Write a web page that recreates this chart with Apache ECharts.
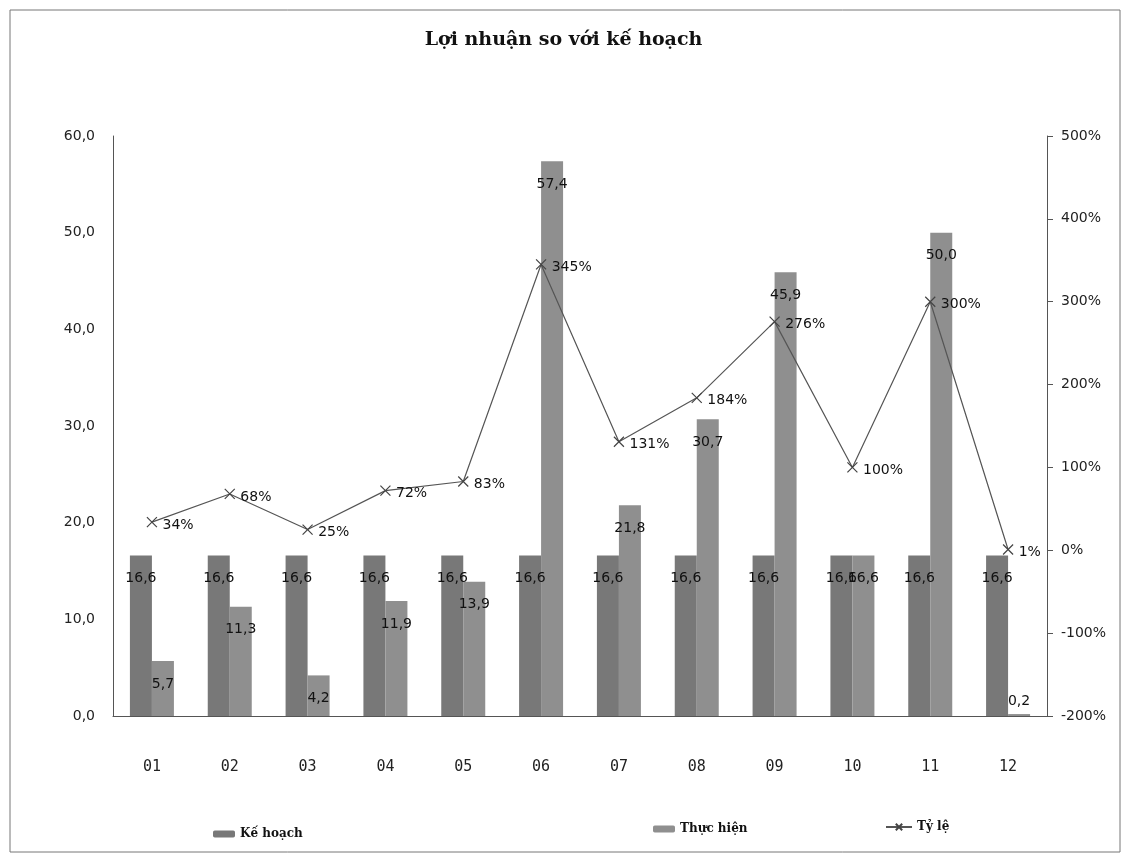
<!DOCTYPE html>
<html><head><meta charset="utf-8">
<script src="https://cdn.jsdelivr.net/npm/echarts@6/dist/echarts.min.js"></script>
<style>html,body{margin:0;padding:0;background:#fff}#c{width:1127px;height:856px}</style>
</head><body><div id="c"></div>
<script>
const months = ['01','02','03','04','05','06','07','08','09','10','11','12'];
const keHoach = [16.6,16.6,16.6,16.6,16.6,16.6,16.6,16.6,16.6,16.6,16.6,16.6];
const thucHien = [5.7,11.3,4.2,11.9,13.9,57.4,21.8,30.7,45.9,16.6,50.0,0.2];
const tyLe = [34,68,25,72,83,345,131,184,276,100,300,1];
const leftTicks = {min:0,max:60,interval:10};
const rightTicks = {min:-200,max:500,interval:100};

const fmt1 = v => v.toFixed(1).replace('.', ',');
const lblFont = {fontFamily:'DejaVu Sans', fontSize:14, color:'#111'};
const xPath = 'path://M0,0L10,10M10,0L0,10';

const chart = echarts.init(document.getElementById('c'));
chart.setOption({
  animation:false,
  backgroundColor:'#fff',
  title:{text:'Lợi nhuận so với kế hoạch', left:'center', top:26,
    textStyle:{fontFamily:'DejaVu Serif', fontWeight:'bold', fontSize:19, color:'#111'}},
  legend:[
    {data:['Kế hoạch'], left:208, top:823, itemWidth:22, itemHeight:7, itemGap:4,
      textStyle:{fontFamily:'DejaVu Serif', fontWeight:'bold', fontSize:12, color:'#111'}},
    {data:['Thực hiện'], left:648, top:818, itemWidth:22, itemHeight:7,
      textStyle:{fontFamily:'DejaVu Serif', fontWeight:'bold', fontSize:12, color:'#111'}},
    {data:['Tỷ lệ'], left:880, top:816, itemWidth:26, itemHeight:8,
      textStyle:{fontFamily:'DejaVu Serif', fontWeight:'bold', fontSize:12, color:'#111'}}
  ],
  grid:{left:113, right:80, top:136, bottom:140},
  xAxis:{type:'category', data:months,
    axisLine:{lineStyle:{color:'#555'}}, axisTick:{show:false},
    axisLabel:{margin:44, fontFamily:'DejaVu Sans Mono', fontSize:15, color:'#222'}},
  yAxis:[
    {type:'value', min:leftTicks.min, max:leftTicks.max, interval:leftTicks.interval,
      splitLine:{show:false}, axisLine:{show:true, lineStyle:{color:'#555'}}, axisTick:{show:false},
      axisLabel:{formatter:fmt1, margin:18, fontFamily:'DejaVu Sans', fontSize:14, color:'#222'}},
    {type:'value', min:rightTicks.min, max:rightTicks.max, interval:rightTicks.interval,
      splitLine:{show:false}, axisLine:{show:true, lineStyle:{color:'#555'}},
      axisTick:{show:true, length:6, lineStyle:{color:'#555'}},
      axisLabel:{formatter:v=>v+'%', margin:14, fontFamily:'DejaVu Sans', fontSize:14, color:'#222'}}
  ],
  series:[
    {name:'Kế hoạch', type:'bar', data:keHoach, barWidth:22, barGap:'0%',
      itemStyle:{color:'#787878'},
      label:{show:true, position:'insideTop', distance:16, formatter:p=>fmt1(p.value), ...lblFont}},
    {name:'Thực hiện', type:'bar', data:thucHien.map(v=> v<2 ? {value:v, label:{position:'top', distance:6}} : v), barWidth:22,
      itemStyle:{color:'#8f8f8f'},
      label:{show:true, position:'insideTop', distance:16, formatter:p=>fmt1(p.value), ...lblFont}},
    {name:'Tỷ lệ', type:'line', yAxisIndex:1, data:tyLe,
      symbol:xPath, symbolSize:10, lineStyle:{color:'#555', width:1.2},
      itemStyle:{color:'#555', borderColor:'#444', borderWidth:1.2},
      label:{show:true, position:'right', distance:5, offset:[0,3], formatter:p=>p.value+'%', ...lblFont}}
  ],
  graphic:[{type:'rect', shape:{x:10, y:10, width:1110, height:842},
    style:{fill:'none', stroke:'#777', lineWidth:1}, silent:true}]
});
</script></body></html>
